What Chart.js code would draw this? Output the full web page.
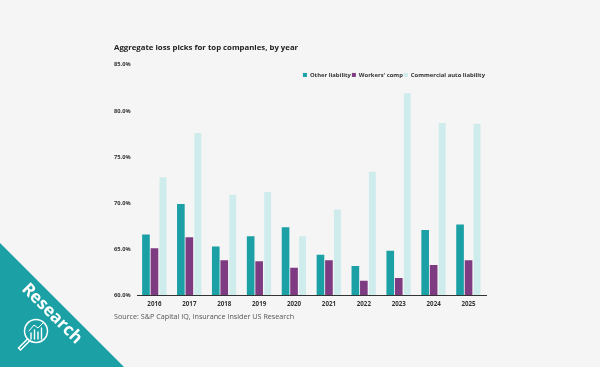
<!DOCTYPE html>
<html>
<head>
<meta charset="utf-8">
<script src="https://cdn.jsdelivr.net/npm/chart.js@4"></script>
<style>
  html, body { margin: 0; padding: 0; background: #f5f5f5; }
  #wrap { position: relative; width: 600px; height: 367px; overflow: hidden; }
  #banner { position: absolute; left: 0; top: 243px; width: 124px; height: 124px; background: #1ba0a5; clip-path: polygon(0 0, 0 100%, 100% 100%); }
  #bannerText { position: absolute; left: 3px; top: 301px; width: 100px; text-align: center; color: #fff; font: 700 17px "Open Sans"; transform: rotate(45deg); }
  #icon { position: absolute; left: 12px; top: 314px; }
</style>
</head>
<body>
<div id="wrap">
  <canvas id="myChart" width="600" height="367"></canvas>
  <div id="banner"></div>
  <div id="bannerText">Research</div>
  <svg id="icon" width="42" height="42" viewBox="0 0 42 42" fill="none" stroke="#fff" stroke-linecap="round">
    <circle cx="24" cy="17" r="11.5" stroke-width="1.5"/>
    <path d="M15.5 25 L6.5 34 L8.5 36 L17.5 27" stroke-width="1.5"/>
    <path d="M19 25V19 M22.5 25V16 M26 25V18 M29.5 25V14" stroke-width="1.4"/>
    <path d="M17 17 L22 11 L26 14 L31 9" stroke-width="1"/>
  </svg>
</div>
<script>
const years = ["2016", "2017", "2018", "2019", "2020", "2021", "2022", "2023", "2024", "2025"];
const otherLiability = [66.6, 69.9, 65.3, 66.4, 67.4, 64.4, 63.2, 64.85, 67.1, 67.7];
const workersComp = [65.1, 66.3, 63.8, 63.7, 63.0, 63.8, 61.6, 61.9, 63.3, 63.8];
const commercialAuto = [72.8, 77.6, 70.9, 71.2, 66.4, 69.3, 73.4, 81.9, 78.7, 78.6];

const openSans = "'Open Sans'";

// legend sits inside the plot in the original, so move it after layout
const moveLegend = {
  id: "moveLegend",
  afterLayout(chart) {
    const h = chart.legend.height;
    chart.legend.top = 71;
    chart.legend.bottom = 71 + h;
  }
};

new Chart(document.getElementById("myChart"), {
  type: "bar",
  data: {
    labels: years,
    datasets: [
      { label: "Other liability", data: otherLiability, backgroundColor: "#1ba0a5", barPercentage: 0.9, categoryPercentage: 0.73 },
      { label: "Workers' comp", data: workersComp, backgroundColor: "#7f3b82", barPercentage: 0.9, categoryPercentage: 0.73 },
      { label: "Commercial auto liability", data: commercialAuto, backgroundColor: "#cfeced", barPercentage: 0.82, categoryPercentage: 0.73 }
    ]
  },
  options: {
    responsive: false,
    animation: false,
    layout: { padding: { left: 114, right: 114, top: 43, bottom: 45.5 } },
    scales: {
      x: {
        grid: { display: false, drawTicks: false },
        border: { color: "#333", width: 1, z: 1 },
        ticks: { color: "#333", padding: 5, font: { family: openSans, size: 6.2, weight: "bold" } }
      },
      y: {
        min: 60,
        max: 85,
        afterFit(scale) { scale.width = 23; },
        grid: { display: false, drawTicks: false },
        border: { display: false },
        ticks: {
          stepSize: 5,
          crossAlign: "far",
          color: "#333",
          padding: 0,
          font: { family: openSans, size: 5.7, weight: "bold" },
          callback: function (value) { return value.toFixed(1) + "%"; }
        }
      }
    },
    plugins: {
      title: {
        display: true,
        text: "Aggregate loss picks for top companies, by year",
        align: "start",
        color: "#222",
        padding: { top: 0, bottom: -4.5 },
        font: { family: openSans, size: 7.8, weight: "bold" }
      },
      subtitle: {
        display: true,
        position: "bottom",
        text: "Source: S&P Capital IQ, Insurance Insider US Research",
        align: "start",
        color: "#555",
        padding: { top: 0, bottom: 0 },
        font: { family: openSans, size: 7.2, weight: "normal" }
      },
      legend: {
        position: "top",
        align: "end",
        labels: {
          boxWidth: 4,
          boxHeight: 4,
          padding: 1,
          color: "#333",
          font: { family: openSans, size: 5.9, weight: "bold" }
        }
      },
      tooltip: { enabled: false }
    }
  },
  plugins: [moveLegend]
});
</script>
</body>
</html>
